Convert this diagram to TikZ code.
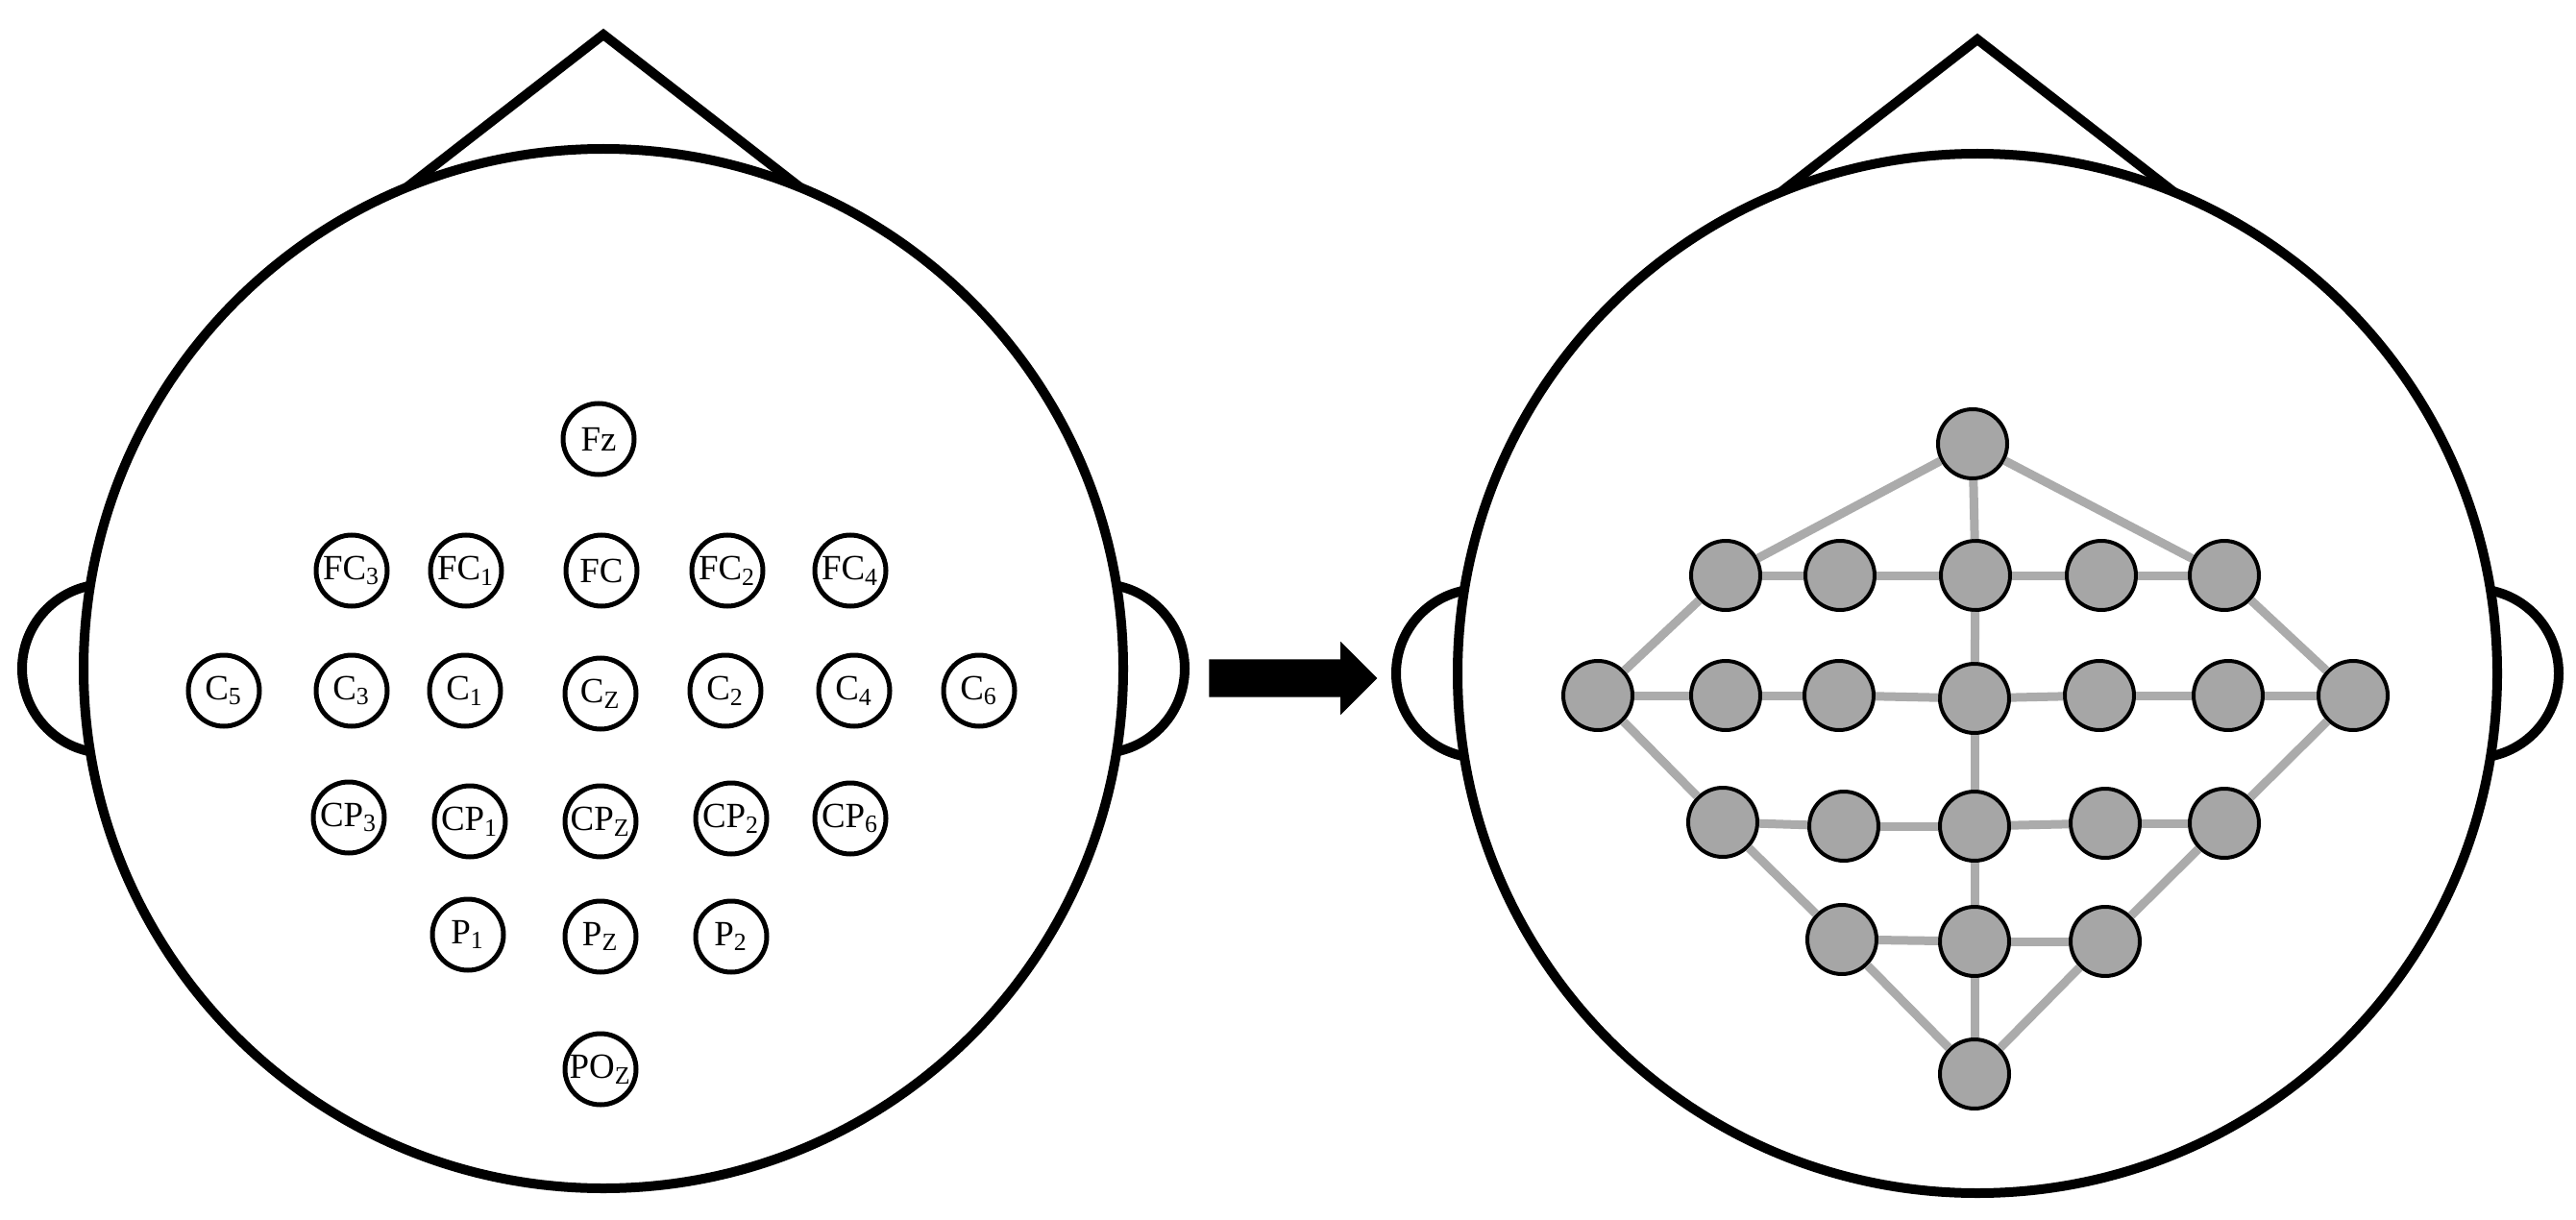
\documentclass[tikz,border=0pt]{standalone}
\usepackage{fontspec}
\setmainfont{Liberation Serif}
\usepackage{tikz}
\usetikzlibrary{calc}
\usetikzlibrary{shapes.arrows}
\definecolor{nodegray}{HTML}{A6A6A6}
\definecolor{linkgray}{HTML}{ABABAB}
\tikzset{head/.style={draw=black,line width=0.1cm}}
\tikzset{elec/.style={circle,draw=black,line width=0.05cm,minimum size=0.74cm,inner sep=0pt,font=\fontsize{10.5}{12}\selectfont}}
\tikzset{gnode/.style={circle,draw=black,fill=nodegray,line width=0.04cm,minimum size=0.72cm,inner sep=0pt}}
\tikzset{link/.style={draw=linkgray,line width=0.09cm}}
\newcommand{\electrodes}{Fz/-0.05/2.39/Fz,
 FC3/-2.62/1.02/FC\textsubscript{3}, FC1/-1.43/1.02/FC\textsubscript{1}, FC/-0.02/1.02/FC,
 FC2/1.29/1.02/FC\textsubscript{2}, FC4/2.57/1.02/FC\textsubscript{4},
 C5/-3.95/-0.23/C\textsubscript{5}, C3/-2.62/-0.23/C\textsubscript{3}, C1/-1.44/-0.23/C\textsubscript{1},
 Cz/-0.03/-0.26/C\textsubscript{Z}, C2/1.27/-0.23/C\textsubscript{2}, C4/2.61/-0.23/C\textsubscript{4},
 C6/3.91/-0.23/C\textsubscript{6},
 CP3/-2.65/-1.55/CP\textsubscript{3}, CP1/-1.39/-1.59/CP\textsubscript{1}, CPz/-0.03/-1.59/CP\textsubscript{Z},
 CP2/1.33/-1.56/CP\textsubscript{2}, CP6/2.57/-1.56/CP\textsubscript{6},
 P1/-1.41/-2.77/P\textsubscript{1}, Pz/-0.03/-2.79/P\textsubscript{Z}, P2/1.33/-2.79/P\textsubscript{2},
 POz/-0.03/-4.17/PO\textsubscript{Z}}

\begin{document}
\begin{tikzpicture}

\useasboundingbox (0,0) rectangle (26.81,12.69);

\coordinate (headL) at (6.28, 5.73);
\coordinate (headR) at (20.58, 5.68);

% heads with ears and nose
\foreach \h in {L, R}
  {
 \draw[head] ($ (head\h)+(-5.17, 0) $) circle (0.88);
 \draw[head] ($ (head\h)+(5.17, 0) $) circle (0.88);
 \draw[head] ($ (head\h)+(112.3:5.41) $) -- ($ (head\h)+(0, 6.6) $) -- ($ (head\h)+(67.7:5.41) $);
 \draw[head, fill=white] (head\h) circle (5.41);
  }

\node[single arrow, fill=black, minimum height=1.75cm, inner xsep=0pt, inner ysep=0.19cm,
  single arrow head extend=0.185cm] (arrow) at (13.36, 5.63) {};

% electrodes
\foreach \n/\x/\y/\t in \electrodes
  {
 \node[elec] (\n) at ($ (headL)+(\x, \y) $) {\t};
 \node[gnode] (g\n) at ($ (headR)+(\x, \y) $) {};
  }

% graph
\foreach \a/\b in {Fz/FC3, Fz/FC, Fz/FC4, FC3/FC1, FC1/FC, FC/FC2, FC2/FC4,
  FC3/C5, FC4/C6, FC/Cz, C5/C3, C3/C1, C1/Cz, Cz/C2, C2/C4, C4/C6,
  C5/CP3, C6/CP6, Cz/CPz, CP3/CP1, CP1/CPz, CPz/CP2, CP2/CP6,
  CP3/P1, CP6/P2, CPz/Pz, P1/Pz, Pz/P2, P1/POz, Pz/POz, P2/POz}
  {
 \draw[link] (g\a) -- (g\b);
  }

\end{tikzpicture}
\end{document}
